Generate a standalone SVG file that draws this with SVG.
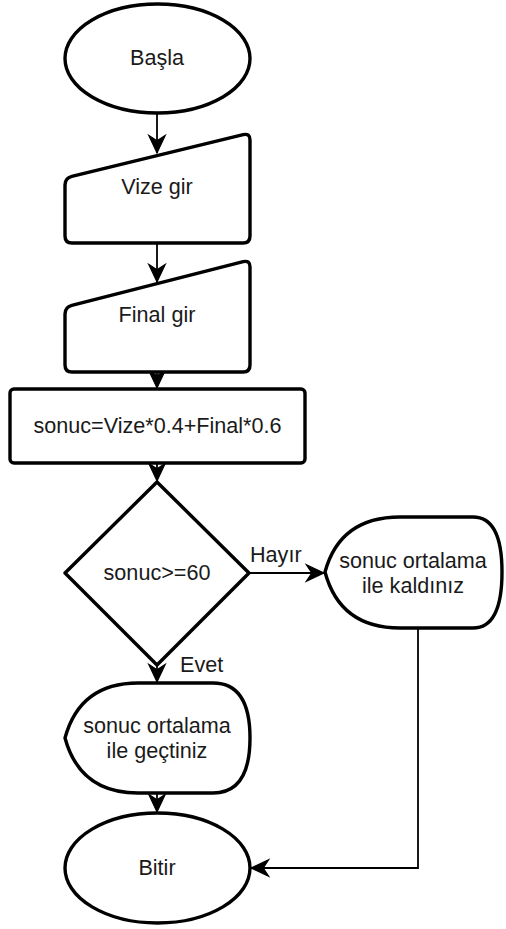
<svg xmlns="http://www.w3.org/2000/svg" width="506" height="929" viewBox="0 0 506 929">
<style>
.shape{fill:#fff;stroke:#000;stroke-width:3.4;stroke-linejoin:round}
.conn{fill:none;stroke:#000;stroke-width:1.8}
text{font-family:"Liberation Sans",Arial,Helvetica,sans-serif;font-size:21.6px;fill:#1a1a1a}
.c{text-anchor:middle}
</style>
<defs>
<marker id="arr" markerUnits="userSpaceOnUse" orient="auto" refX="0" refY="0" markerWidth="20" markerHeight="20" viewBox="-17 -9 18 18" overflow="visible">
<path d="M0,0 L-16,-7.5 L-11,0 L-16,7.5 Z" fill="#000" stroke="#000" stroke-width="1" stroke-linejoin="miter"/>
</marker>
</defs>
<rect width="506" height="929" fill="#fff"/>
<g id="connectors">
<path class="conn" d="M157,113 L157,153" marker-end="url(#arr)"/>
<path class="conn" d="M157,243 L157,282" marker-end="url(#arr)"/>
<path class="conn" d="M157,372 L157,388" marker-end="url(#arr)"/>
<path class="conn" d="M157,463 L157,481" marker-end="url(#arr)"/>
<path class="conn" d="M249,573 L324,573" marker-end="url(#arr)"/>
<path class="conn" d="M157,665 L157,682" marker-end="url(#arr)"/>
<path class="conn" d="M157,793 L157,812" marker-end="url(#arr)"/>
<path class="conn" d="M418,628 L418,868 L251,868" marker-end="url(#arr)"/>
</g>
<g id="start">
<ellipse class="shape" cx="157.5" cy="58.5" rx="92.5" ry="54.5"/>
<text class="c" x="157" y="65">Başla</text>
</g>
<g id="vize">
<path class="shape" d="M65,185 Q65,178 71.8,176.35 L243.2,134.65 Q250,133 250,140 L250,236 Q250,243 243,243 L72,243 Q65,243 65,236 Z"/>
<text class="c" x="157" y="194">Vize gir</text>
</g>
<g id="final">
<path class="shape" d="M65,314 Q65,307 71.8,305.3 L243.2,261.7 Q250,260 250,267 L250,365 Q250,372 243,372 L72,372 Q65,372 65,365 Z"/>
<text class="c" x="157" y="322">Final gir</text>
</g>
<g id="calc">
<rect class="shape" x="10" y="389" width="295" height="74" rx="4"/>
<text class="c" x="157.5" y="433">sonuc=Vize*0.4+Final*0.6</text>
</g>
<g id="decision">
<path class="shape" d="M157,482 L249,573 L157,665 L65,573 Z"/>
<text class="c" x="157" y="580">sonuc&gt;=60</text>
</g>
<g id="labels">
<text x="250" y="562">Hayır</text>
<text x="180" y="672">Evet</text>
</g>
<g id="failed">
<path class="shape" d="M325,572 Q340,517 400,517 L473,517 Q502,517 502,572 Q502,628 473,628 L400,628 Q340,628 325,572 Z"/>
<text class="c" x="413" y="568">sonuc ortalama</text>
<text class="c" x="413" y="593">ile kaldınız</text>
</g>
<g id="passed">
<path class="shape" d="M65,738 Q80,683 138,683 L213,683 Q250,683 250,738 Q250,793 213,793 L138,793 Q80,793 65,738 Z"/>
<text class="c" x="157" y="733">sonuc ortalama</text>
<text class="c" x="157" y="758">ile geçtiniz</text>
</g>
<g id="end">
<ellipse class="shape" cx="157.5" cy="868" rx="92.5" ry="55"/>
<text class="c" x="157" y="875">Bitir</text>
</g>
</svg>
